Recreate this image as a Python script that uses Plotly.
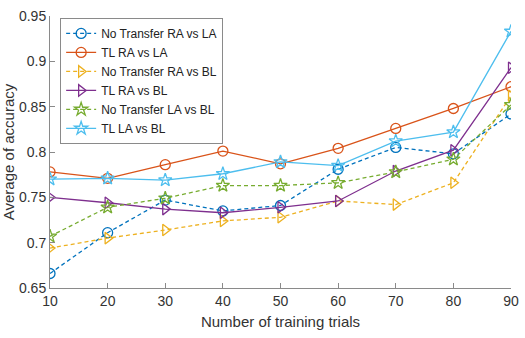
import plotly.graph_objects as go

trials = [10, 20, 30, 40, 50, 60, 70, 80, 90]
nt_ra_la = [0.666, 0.711, 0.747, 0.735, 0.741, 0.781, 0.805, 0.798, 0.842]
tl_ra_la = [0.778, 0.771, 0.786, 0.801, 0.787, 0.804, 0.826, 0.848, 0.872]
nt_ra_bl = [0.694, 0.705, 0.714, 0.724, 0.728, 0.746, 0.742, 0.766, 0.862]
tl_ra_bl = [0.750, 0.744, 0.737, 0.733, 0.739, 0.746, 0.779, 0.802, 0.893]
nt_la_bl = [0.707, 0.739, 0.749, 0.763, 0.763, 0.766, 0.778, 0.792, 0.852]
tl_la_bl = [0.770, 0.771, 0.769, 0.776, 0.789, 0.785, 0.812, 0.822, 0.933]

series = [
    ("No Transfer RA vs LA", nt_ra_la, "#0072BD", "dash", "circle-open"),
    ("TL RA vs LA", tl_ra_la, "#D95319", "solid", "circle-open"),
    ("No Transfer RA vs BL", nt_ra_bl, "#EDB120", "dash", "triangle-right-open"),
    ("TL RA vs BL", tl_ra_bl, "#7E2F8E", "solid", "triangle-right-open"),
    ("No Transfer LA vs BL", nt_la_bl, "#77AC30", "dash", "star-open"),
    ("TL LA vs BL", tl_la_bl, "#4DBEEE", "solid", "star-open"),
]

fig = go.Figure()
for name, vals, color, dash, sym in series:
    fig.add_trace(go.Scatter(
        x=trials, y=vals, name=name, mode="lines+markers",
        line=dict(color=color, width=1.3, dash=dash if dash == "solid" else "4px,3px"),
        marker=dict(symbol=sym, size=10, color=color, line=dict(width=1.3, color=color)),
    ))

FONT = "Liberation Sans, Arial, sans-serif"
axis_common = dict(
    showline=True, linecolor="#8a8a8a", linewidth=1,
    ticks="inside", ticklen=5, tickcolor="#8a8a8a",
    showgrid=False, zeroline=False, mirror=False, automargin=False,
    tickfont=dict(family=FONT, size=14, color="#333333"),
    title_font=dict(family=FONT, size=15, color="#333333"),
)

fig.update_layout(
    width=525, height=338,
    margin=dict(l=50, r=14, t=16, b=50),
    paper_bgcolor="white", plot_bgcolor="white",
    showlegend=True,
    legend=dict(
        x=0.022, y=0.993, xanchor="left", yanchor="top",
        bgcolor="white", bordercolor="#8a8a8a", borderwidth=1,
        font=dict(family=FONT, size=12, color="#222222"),
        tracegroupgap=0, itemwidth=30,
    ),
    xaxis=dict(range=[10, 90], tickvals=trials, ticktext=[str(t) for t in trials],
               title=dict(text="Number of training trials", standoff=8), **axis_common),
    yaxis=dict(range=[0.65, 0.95], tickvals=[0.65, 0.7, 0.75, 0.8, 0.85, 0.9, 0.95],
               ticktext=["0.65", "0.7", "0.75", "0.8", "0.85", "0.9", "0.95"],
               title=dict(text="Average of accuracy", standoff=0), **axis_common),
)

fig.write_html("out.html")
